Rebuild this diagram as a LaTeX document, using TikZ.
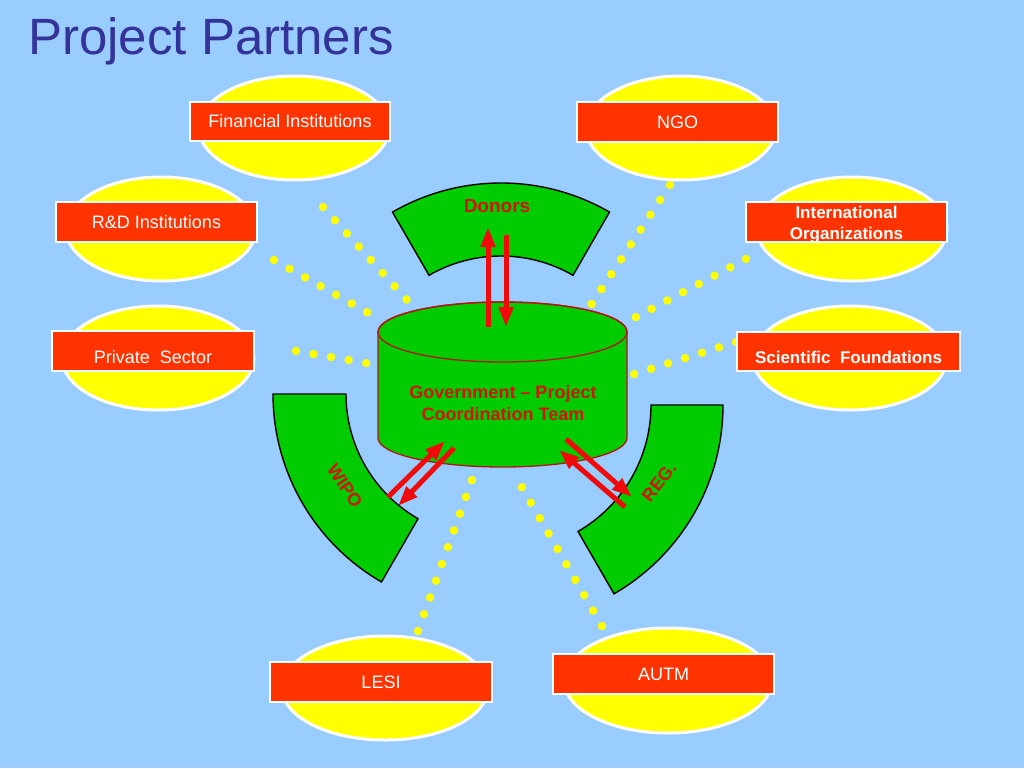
\documentclass[tikz,border=0pt]{standalone}
\usepackage{fontspec}
\setmainfont{Liberation Sans}
\usetikzlibrary{shapes.geometric,arrows.meta,calc}
\definecolor{bgblue}{RGB}{153,204,255}
\definecolor{titleblue}{RGB}{51,51,153}
\definecolor{tagred}{RGB}{255,51,0}
\definecolor{ovalyellow}{RGB}{255,255,0}
\definecolor{secgreen}{RGB}{0,204,0}
\definecolor{labred}{RGB}{210,20,10}
\definecolor{cylborder}{RGB}{180,20,20}
\definecolor{arrred}{RGB}{240,10,10}
\begin{document}
\begin{tikzpicture}[x=1pt,y=-1pt,
  oval/.style={ellipse, draw=white, line width=3pt, fill=ovalyellow, inner sep=0pt},
  tagbox/.style={rectangle, draw=white, line width=1.2pt, fill=tagred, text=white,
    inner sep=0pt, font=\fontsize{18}{21}\selectfont},
  tagbold/.style={tagbox, font=\bfseries\fontsize{17}{21}\selectfont, align=center},
  tagtext/.style={text=white, inner sep=0pt, font=\bfseries\fontsize{17}{21}\selectfont, align=center},
  dotline/.style={draw=ovalyellow, line width=8.5pt, line cap=round, dash pattern=on 0pt off 17.8pt},
  sector/.style={fill=secgreen, draw=black, line width=1.4pt},
  cylfill/.style={fill=secgreen, draw=cylborder, line width=1.3pt},
  redarrow/.style={draw=arrred, line width=5pt, -{Triangle[width=14pt,length=20pt]}},
  seclabel/.style={text=labred, font=\bfseries\fontsize{18}{22}\selectfont, inner sep=0pt}
]
\fill[bgblue] (0,0) rectangle (1024,768);
\useasboundingbox (0,0) rectangle (1024,768);

% title
\node[anchor=base west, inner sep=0pt, text=titleblue, font=\fontsize{51}{60}\selectfont] (title) at (28,55) {Project Partners};

% dotted connectors (ellipse side -> coordination team)
\coordinate (fA) at (323,207);   \coordinate (cA) at (407.5,300.5);
\coordinate (rB) at (274,260);   \coordinate (cB) at (369.5,313.5);
\coordinate (pC) at (296,351);   \coordinate (cC) at (367.5,363.3);
\coordinate (nD) at (670,185);   \coordinate (cD) at (590.5,305.7);
\coordinate (iE) at (746,259);   \coordinate (cE) at (633.5,318.3);
\coordinate (sF) at (736,342);   \coordinate (cF) at (633,374.5);
\coordinate (lG) at (418,631);   \coordinate (cG) at (473.3,476.2);
\coordinate (aH) at (602,626);   \coordinate (cH) at (519.6,483.3);
\foreach \a/\b in {fA/cA,rB/cB,pC/cC,nD/cD,iE/cE,sF/cF,lG/cG,aH/cH}
  \draw[dotline] (\a) -- (\b);

% partner ovals
\node[oval, minimum width=190pt, minimum height=104pt] (finO) at (294,128) {};
\node[oval, minimum width=190pt, minimum height=104pt] (ngoO) at (681,128) {};
\node[oval, minimum width=190pt, minimum height=104pt] (rdO) at (161,229) {};
\node[oval, minimum width=190pt, minimum height=104pt] (intO) at (852,229) {};
\node[oval, minimum width=192pt, minimum height=104pt] (priO) at (158,358) {};
\node[oval, minimum width=194pt, minimum height=104pt] (sciO) at (850,358) {};
\node[oval, minimum width=206pt, minimum height=104pt] (lesiO) at (385,688) {};
\node[oval, minimum width=208pt, minimum height=105pt] (autmO) at (668,680.5) {};

% partner tags
\node[tagbox, minimum width=200pt, minimum height=39pt] (fin) at (290,121.5) {Financial Institutions};
\node[tagbox, minimum width=201pt, minimum height=40pt] (ngo) at (677.5,122) {NGO};
\node[tagbox, minimum width=201pt, minimum height=40pt] (rd) at (156.5,222) {R\&D Institutions};
\node[tagbox, minimum width=201pt, minimum height=40pt] (int) at (846.5,222) {};
\node[tagtext] (intT) at (846.5,224.5) {International\\Organizations};
\node[tagbox, minimum width=202pt, minimum height=40pt, text height=25pt, text depth=0pt] (pri) at (153,351) {Private\ \ Sector};
\node[tagbold, minimum width=223pt, minimum height=39pt, text height=24pt, text depth=0pt] (sci) at (848.5,351.5) {Scientific\ \ Foundations};
\node[tagbox, minimum width=222pt, minimum height=40pt] (lesi) at (381,682) {LESI};
\node[tagbox, minimum width=221pt, minimum height=40pt] (autm) at (663.5,674) {AUTM};

% sectors
\coordinate (dc) at (501,400);
\path[sector] ($(dc)+(-120:217)$) arc[start angle=-120, end angle=-60, radius=217]
  -- ($(dc)+(-60:144)$) arc[start angle=-60, end angle=-120, radius=144] -- cycle;
\coordinate (wc) at (490,394);
\path[sector] ($(wc)+(180:217)$) arc[start angle=180, end angle=120, radius=217]
  -- ($(wc)+(120:144)$) arc[start angle=120, end angle=180, radius=144] -- cycle;
\coordinate (rc) at (505,405);
\path[sector] ($(rc)+(0:218)$) arc[start angle=0, end angle=60, radius=218]
  -- ($(rc)+(60:146)$) arc[start angle=60, end angle=0, radius=146] -- cycle;

% coordination team cylinder
\path[cylfill] (378,332) -- (378,438) arc[start angle=180, end angle=0, x radius=124.5, y radius=29]
  -- (627,332) arc[start angle=0, end angle=-180, x radius=124.5, y radius=30] -- cycle;
\draw[draw=cylborder, line width=1.3pt] (502.5,332) ellipse[x radius=124.5, y radius=30];
\node[seclabel, align=center, font=\bfseries\fontsize{18}{22}\selectfont] (gov) at (503,403) {Government – Project\\Coordination Team};

% sector labels
\node[seclabel, font=\bfseries\fontsize{19}{22}\selectfont] (donors) at (497,206) {Donors};
\node[seclabel, rotate=-56] (wipo) at (345,486) {WIPO};
\node[seclabel, rotate=52] (reg) at (659,482) {REG.};

% arrows
\coordinate (d1s) at (488,327); \coordinate (d1e) at (488,227);
\coordinate (d2s) at (506,235); \coordinate (d2e) at (506,327);
\coordinate (w1s) at (388,497); \coordinate (w1e) at (445,441);
\coordinate (w2s) at (454,448); \coordinate (w2e) at (398,506);
\coordinate (r1s) at (625,507); \coordinate (r1e) at (559,450);
\coordinate (r2s) at (566,439); \coordinate (r2e) at (632,497);
\foreach \s/\e in {d1s/d1e,d2s/d2e,w1s/w1e,w2s/w2e,r1s/r1e,r2s/r2e}
  \draw[redarrow] (\s) -- (\e);
\end{tikzpicture}
\end{document}
